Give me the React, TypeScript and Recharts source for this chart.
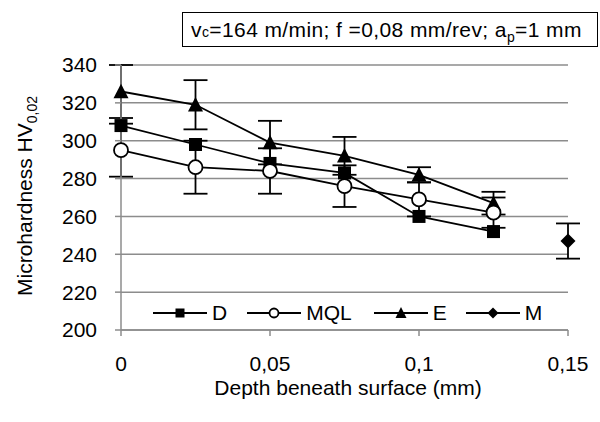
import React from 'react'
import { LineChart, Line, XAxis, YAxis, CartesianGrid, ErrorBar } from 'recharts'

const depth = [0, 0.025, 0.05, 0.075, 0.1, 0.125, 0.15]
const seriesD = [308, 298, 288, 283, 260, 252, null]
const seriesMQL = [295, 286, 284, 276, 269, 262, null]
const seriesE = [326, 319, 299, 292, 282, 267, null]
const seriesM = [null, null, null, null, null, null, 247]
const errMQL = [14, 14, 12, 11, 9, 8, null]
const errE = [14, 13, 11.5, 10, 4, 6, null]
const errM = [null, null, null, null, null, null, 9.3]
const xTicks = [0, 0.05, 0.1, 0.15]
const yTicks = [200, 220, 240, 260, 280, 300, 320, 340]

const data = depth.map((x, i) => ({
  x,
  D: seriesD[i],
  MQL: seriesMQL[i],
  E: seriesE[i],
  M: seriesM[i],
  eMQL: errMQL[i],
  eE: errE[i],
  eM: errM[i],
}))

const FONT = '"Liberation Sans", Arial, sans-serif'
const GRID = '#8c8c8c'

type Shape = 'square' | 'circle' | 'triangle' | 'diamond'

function marker(shape: Shape, cx: number, cy: number, s: number, key?: string) {
  if (shape === 'square') {
    return <rect key={key} x={cx - s / 2} y={cy - s / 2} width={s} height={s} fill="#000" />
  }
  if (shape === 'circle') {
    return <circle key={key} cx={cx} cy={cy} r={s / 2} fill="#fff" stroke="#000" strokeWidth={1.8} />
  }
  if (shape === 'triangle') {
    const h = s * 0.9
    return (
      <polygon key={key} points={`${cx},${cy - h / 2 - 1} ${cx + s / 2},${cy + h / 2} ${cx - s / 2},${cy + h / 2}`} fill="#000" />
    )
  }
  return (
    <polygon key={key} points={`${cx},${cy - s / 2} ${cx + s / 2},${cy} ${cx},${cy + s / 2} ${cx - s / 2},${cy}`} fill="#000" />
  )
}

const dotFor = (shape: Shape, size: number) => (props: any) => {
  const { cx, cy, index, value } = props
  if (cx == null || cy == null || value == null) return <g key={`n${index}`} />
  return marker(shape, cx, cy, size, `${shape}${index}`)
}

const legendItems: { name: string; shape: Shape; size: number; gap: number }[] = [
  { name: 'D', shape: 'square', size: 9, gap: 20 },
  { name: 'MQL', shape: 'circle', size: 9, gap: 22 },
  { name: 'E', shape: 'triangle', size: 11, gap: 19 },
  { name: 'M', shape: 'diamond', size: 11, gap: 0 },
]

export default function App() {
  return (
    <div style={{ position: 'absolute', left: 0, top: 0, width: 600, height: 422, background: '#fff', fontFamily: FONT }}>
      <LineChart width={600} height={422} data={data} margin={{ top: 65, right: 32, left: 0, bottom: 0 }}>
        <CartesianGrid vertical={false} stroke={GRID} strokeWidth={1.5} />
        <XAxis
          dataKey="x"
          type="number"
          domain={[0, 0.15]}
          ticks={xTicks}
          height={92}
          stroke={GRID}
          strokeWidth={1.5}
          tickSize={6}
          tickMargin={20}
          tick={{ fill: '#000', fontSize: 21, fontFamily: FONT }}
          tickFormatter={(v: number) => String(v).replace('.', ',')}
        />
        <YAxis
          type="number"
          domain={[200, 340]}
          ticks={yTicks}
          width={121}
          stroke={GRID}
          strokeWidth={1.5}
          tickSize={6}
          tickMargin={18}
          tick={{ fill: '#000', fontSize: 21, fontFamily: FONT }}
        />
        <Line dataKey="D" stroke="#000" strokeWidth={1.8} isAnimationActive={false} dot={dotFor('square', 13)} activeDot={false} />
        <Line dataKey="E" stroke="#000" strokeWidth={1.8} isAnimationActive={false} dot={dotFor('triangle', 15)} activeDot={false}>
          <ErrorBar dataKey="eE" direction="y" width={12} stroke="#000" strokeWidth={1.8} isAnimationActive={false} />
        </Line>
        <Line dataKey="MQL" stroke="#000" strokeWidth={1.8} isAnimationActive={false} dot={dotFor('circle', 14)} activeDot={false}>
          <ErrorBar dataKey="eMQL" direction="y" width={12} stroke="#000" strokeWidth={1.8} isAnimationActive={false} />
        </Line>
        <Line dataKey="M" stroke="#000" strokeWidth={1.8} isAnimationActive={false} dot={dotFor('diamond', 15)} activeDot={false}>
          <ErrorBar dataKey="eM" direction="y" width={12} stroke="#000" strokeWidth={1.8} isAnimationActive={false} />
        </Line>
      </LineChart>

      <svg width={600} height={422} style={{ position: 'absolute', left: 0, top: 0, pointerEvents: 'none' }}>
        <text x={32} y={196} transform="rotate(-90 32 196)" textAnchor="middle" fontSize={21} fontFamily={FONT} fill="#000">
          Microhardness HV<tspan fontSize={14} dy={5}>0,02</tspan>
        </text>
        <text x={348} y={395} textAnchor="middle" fontSize={21} fontFamily={FONT} fill="#000">
          Depth beneath surface (mm)
        </text>
      </svg>

      <div
        style={{
          position: 'absolute',
          left: 182,
          top: 12,
          width: 406,
          height: 33,
          border: '1.5px solid #000',
          fontSize: 21,
          letterSpacing: 0.4,
          lineHeight: '33px',
          paddingLeft: 8,
          boxSizing: 'content-box',
          whiteSpace: 'nowrap',
          background: '#fff',
        }}
      >
        v<span style={{ fontSize: 14 }}>c</span>=164 m/min; f =0,08 mm/rev; a<sub style={{ fontSize: 14, lineHeight: 0 }}>p</sub>=1 mm
      </div>

      <div style={{ position: 'absolute', left: 153, top: 300, display: 'flex', alignItems: 'center', height: 26, fontSize: 21 }}>
        {legendItems.map((it) => (
          <div key={it.name} style={{ display: 'flex', alignItems: 'center', marginRight: it.gap }}>
            <svg width={54} height={20}>
              <line x1={0} y1={10} x2={54} y2={10} stroke="#000" strokeWidth={1.8} />
              {marker(it.shape, 27, 10, it.size)}
            </svg>
            <span style={{ marginLeft: 5 }}>{it.name}</span>
          </div>
        ))}
      </div>
    </div>
  )
}
